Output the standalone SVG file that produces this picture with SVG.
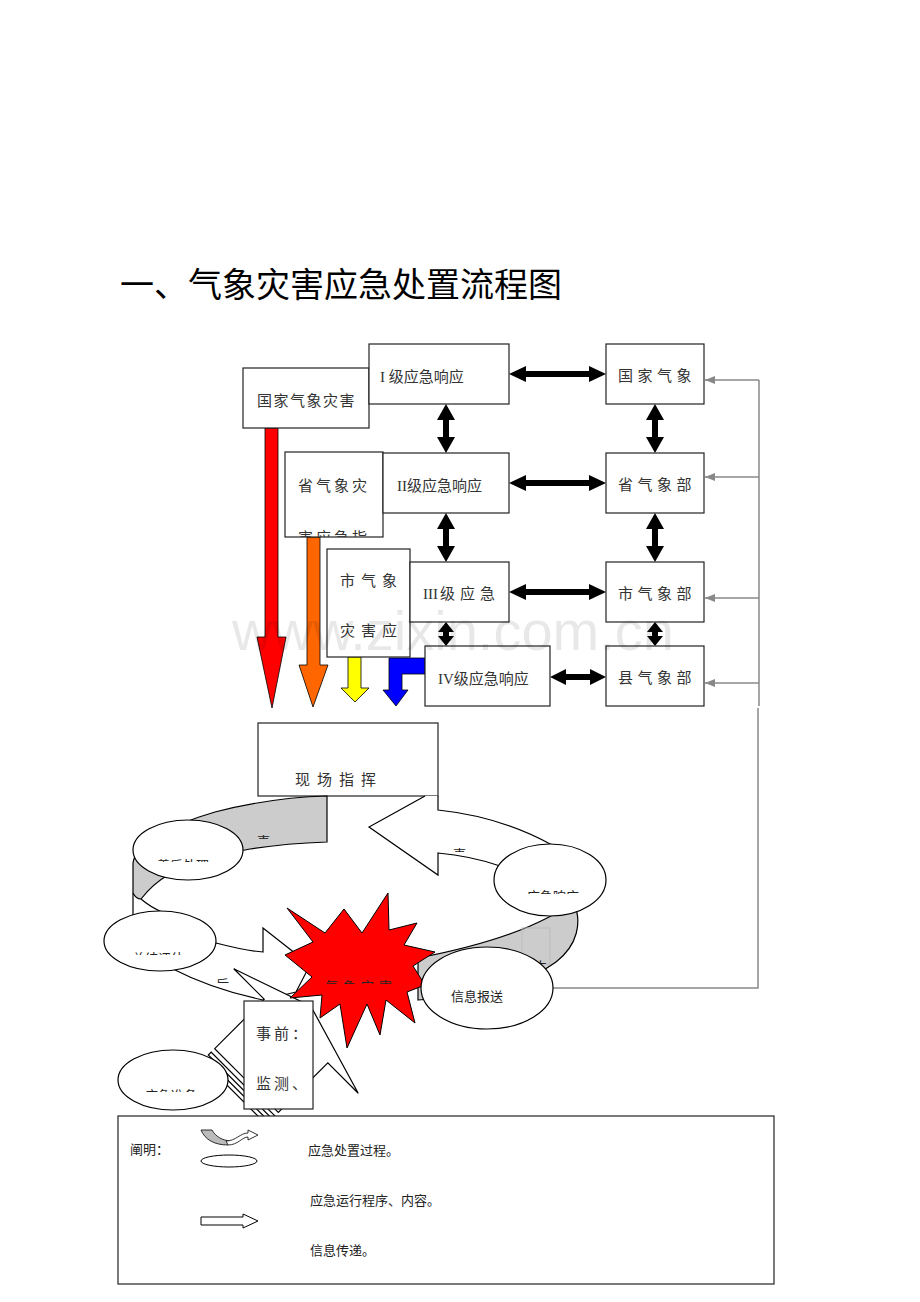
<svg xmlns="http://www.w3.org/2000/svg" width="920" height="1302" viewBox="0 0 920 1302">
<style>
.box{fill:#fff;stroke:#222;stroke-width:1.2}
.t{font-family:"Liberation Serif","Noto Sans CJK SC",serif;font-size:15px;fill:#333}
.s{font-family:"Noto Sans CJK SC",sans-serif;font-size:13px;fill:#222}
.ln{fill:#fff;stroke:#000;stroke-width:1.2}
.gr{fill:#cccccc;stroke:#000;stroke-width:1.2}
.blk{fill:#000}
.fb{stroke:#888;stroke-width:1.5;fill:none}
.col{stroke:#000;stroke-width:0.8}
</style>
<defs>
<marker id="ga" markerUnits="userSpaceOnUse" markerWidth="10" markerHeight="8" refX="10" refY="4" orient="auto"><path d="M0,0 L10,4 L0,8 Z" fill="#888"/></marker>
<clipPath id="c1"><rect x="285" y="515" width="98" height="22"/></clipPath>
<clipPath id="c2"><rect x="140" y="840" width="100" height="22"/></clipPath>
<clipPath id="c3"><rect x="120" y="935" width="90" height="20"/></clipPath>
<clipPath id="c4"><rect x="510" y="875" width="90" height="19"/></clipPath>
<clipPath id="c5"><rect x="130" y="1075" width="90" height="17"/></clipPath>
<clipPath id="c6"><rect x="315" y="965" width="100" height="19"/></clipPath>
<clipPath id="c7"><rect x="250" y="825" width="25" height="14"/></clipPath>
<clipPath id="c8"><rect x="445" y="838" width="25" height="14"/></clipPath>
<clipPath id="c9"><rect x="210" y="970" width="20" height="13"/></clipPath>
<clipPath id="c10"><rect x="522" y="950" width="28" height="14"/></clipPath>
</defs>
<rect width="920" height="1302" fill="#fff"/>
<text x="120" y="297" font-family="'Noto Sans CJK SC',sans-serif" font-size="34" fill="#000">一、气象灾害应急处置流程图</text>

<g id="colored-arrows">
<path class="col" fill="#ff0000" d="M265,428 L278,428 L278,637 L286,637 L272,708 L257,637 L265,637 Z"/>
<path class="col" fill="#ff6600" d="M307,537 L320,537 L320,665 L328,665 L313,707 L299,665 L307,665 Z"/>
<path class="col" fill="#ffff00" d="M348,657 L361,657 L361,688 L369,688 L355,702 L341,688 L348,688 Z"/>
<path class="col" fill="#0000ff" d="M425,658 L389,658 L389,690 L383,690 L396,706 L408,690 L402,690 L402,674 L425,674 Z"/>
</g>

<g id="connectors">
<polygon class="blk" points="509,374 526,366 526,371 589,371 589,366 606,374 589,382 589,377 526,377 526,382"/>
<polygon class="blk" points="509,483 526,475 526,480 589,480 589,475 606,483 589,491 589,486 526,486 526,491"/>
<polygon class="blk" points="509,592 526,584 526,589 589,589 589,584 606,592 589,600 589,595 526,595 526,600"/>
<polygon class="blk" points="550,677 566,669 566,674 590,674 590,669 606,677 590,685 590,680 566,680 566,685"/>
<polygon class="blk" points="446,404 455,420 449,420 449,437 455,437 446,453 437,437 443,437 443,420 437,420"/>
<polygon class="blk" points="446,513 455,529 449,529 449,546 455,546 446,562 437,546 443,546 443,529 437,529"/>
<polygon class="blk" points="446,622 454,632 449,632 449,636 454,636 446,646 438,636 443,636 443,632 438,632"/>
<polygon class="blk" points="655,404 664,420 658,420 658,437 664,437 655,453 646,437 652,437 652,420 646,420"/>
<polygon class="blk" points="655,513 664,529 658,529 658,546 664,546 655,562 646,546 652,546 652,529 646,529"/>
<polygon class="blk" points="655,622 663,632 658,632 658,636 663,636 655,646 647,636 652,636 652,632 647,632"/>
<path class="fb" d="M759,380 L759,706"/>
<path class="fb" d="M758,708 L758,988 L553,988"/>
<path class="fb" d="M759,380 L705,380" marker-end="url(#ga)"/>
<path class="fb" d="M759,477 L705,477" marker-end="url(#ga)"/>
<path class="fb" d="M759,598 L705,598" marker-end="url(#ga)"/>
<path class="fb" d="M759,683 L705,683" marker-end="url(#ga)"/>
</g>

<g id="n-guojia-zaihai"><rect class="box" x="243" y="368" width="126" height="60"/><text class="t" x="257" y="406" letter-spacing="1.5">国家气象灾害</text></g>
<g id="n-level1"><rect class="box" x="369" y="344" width="140" height="60"/><text class="t" x="380" y="382">I 级应急响应</text></g>
<g id="n-guojia"><rect class="box" x="606" y="344" width="98" height="60"/><text class="t" x="618" y="381" font-size="14" letter-spacing="4.5">国家气象</text></g>
<g id="n-sheng-zaihai"><rect class="box" x="285" y="452" width="98" height="85"/><text class="t" x="298" y="491" letter-spacing="3">省气象灾</text><text class="t" x="298" y="543" letter-spacing="3" clip-path="url(#c1)">害应急指</text></g>
<g id="n-level2"><rect class="box" x="383" y="453" width="126" height="60"/><text class="t" x="397" y="491">II级应急响应</text></g>
<g id="n-sheng"><rect class="box" x="606" y="453" width="98" height="60"/><text class="t" x="618" y="490" font-size="14" letter-spacing="4.5">省气象部</text></g>
<g id="n-shi-zaihai"><rect class="box" x="327" y="549" width="83" height="108"/><text class="t" x="340" y="586" letter-spacing="6">市气象</text><text class="t" x="340" y="636" letter-spacing="6">灾害应</text></g>
<g id="n-level3"><rect class="box" x="410" y="562" width="99" height="60"/><text class="t" x="423" y="599">III</text><text class="t" x="440" y="599" letter-spacing="5">级应急</text></g>
<g id="n-shi"><rect class="box" x="606" y="562" width="98" height="60"/><text class="t" x="618" y="599" font-size="14" letter-spacing="4.5">市气象部</text></g>
<g id="n-level4"><rect class="box" x="425" y="646" width="125" height="60"/><text class="t" x="438" y="684">IV级应急响应</text></g>
<g id="n-xian"><rect class="box" x="606" y="646" width="98" height="60"/><text class="t" x="618" y="683" font-size="14" letter-spacing="4.5">县气象部</text></g>

<g id="n-xianchang"><rect class="box" x="258" y="723" width="180" height="73"/><text class="t" x="295" y="785" letter-spacing="7">现场指挥</text></g>

<g id="ring">
<path class="gr" d="M327,796 C290,797 250,803 215,812 C170,825 135,845 133,863 L133,893 C135,897 138,899 141,899 C148,890 156,882 168,875 C195,862 225,853 250,849 C275,845 300,843 327,842 Z"/>
<path fill="none" stroke="#000" stroke-width="1.2" d="M141,899 C148,905 155,909 162,912 M133,893 L133,916"/>
<text class="s" x="257" y="846" clip-path="url(#c7)">事</text>
<path class="ln" d="M425,796 L369,827 L438,875 L438,853 C460,855 480,859 500,866 L552,845 C525,830 485,815 438,810 L438,796"/>
<text class="s" x="453" y="859" clip-path="url(#c8)">事</text>
<path class="gr" d="M574,903 C582,922 578,945 556,962 C525,985 470,997 418,1000 L418,958 C470,948 515,935 549,917 Z"/>
<rect x="522" y="928" width="28" height="36" fill="none" stroke="#bbb" stroke-width="1"/>
<text class="s" x="534" y="971" font-size="14" clip-path="url(#c10)">中</text>
<path class="ln" d="M216,943 C235,948 250,951 263,952 L263,928 L310,965 L296,992 L263,1000 C230,993 200,983 173,969 Z"/>
<text class="s" x="216" y="989" font-size="12" clip-path="url(#c9)">后</text>
</g>

<g id="n-striped-arrow" transform="translate(296,1031) rotate(-45)">
<path class="ln" d="M0,-45 L0,-88 L28,-7 L0,88 L0,45 L-70,45 L-70,-45 Z"/>
<rect class="ln" x="-79" y="-45" width="4" height="90"/>
<rect class="ln" x="-87" y="-45" width="4" height="90"/>
</g>

<g id="n-shanhou"><ellipse class="ln" cx="188" cy="850" rx="55" ry="30"/><text class="s" x="157" y="870" clip-path="url(#c2)">善后处理</text></g>
<g id="n-zongjie"><ellipse class="ln" cx="160" cy="941" rx="56" ry="30"/><text class="s" x="132" y="963" clip-path="url(#c3)">总结评估</text></g>
<g id="n-xiangying"><ellipse class="ln" cx="550" cy="880" rx="56" ry="36"/><text class="s" x="527" y="901" clip-path="url(#c4)">应急响应</text></g>
<g id="n-zhunbei"><ellipse class="ln" cx="173" cy="1080" rx="55" ry="30"/><text class="s" x="145" y="1100" clip-path="url(#c5)">应急准备</text></g>

<g id="n-zaihai">
<polygon fill="#ff0000" stroke="#000" stroke-width="1" points="287,908 325,933 344,909 362,933 388,893 389,930 417,923 404,945 435,952 413,966 425,985 407,992 415,1023 386,1000 380,1035 367,1004 347,1048 340,1004 320,1018 322,995 290,998 312,977 285,955 313,942"/>
<text class="s" x="325" y="991" letter-spacing="5" clip-path="url(#c6)">气象灾害</text>
</g>

<g id="n-xinxi"><ellipse class="ln" cx="487" cy="988" rx="66" ry="41"/><text class="s" x="451" y="1001" font-size="14">信息报送</text></g>

<g id="n-shiqian"><rect class="box" x="244" y="1001" width="69" height="108"/><text class="t" x="256" y="1039" font-size="14" letter-spacing="3">事前：</text><text class="t" x="256" y="1089" font-size="14" letter-spacing="3">监测、</text></g>

<g id="legend">
<rect x="118" y="1116" width="656" height="168" fill="#fff" stroke="#222" stroke-width="1.2"/>
<text class="s" x="130" y="1154" font-size="14">阐明：</text>
<path fill="#bbb" stroke="#000" stroke-width="0.8" d="M201,1130 L212,1130 C216,1137 222,1140 230,1141 L228,1145 C215,1145 205,1140 201,1130 Z"/>
<path fill="#fff" stroke="#000" stroke-width="0.8" d="M226,1141 C236,1141 240,1133 248,1133 L248,1130 L258,1135 L248,1140 L248,1137 C242,1137 238,1145 228,1145 Z"/>
<ellipse cx="229" cy="1161" rx="28" ry="6" fill="#fff" stroke="#000" stroke-width="1"/>
<path fill="#fff" stroke="#000" stroke-width="1" d="M201,1217 L243,1217 L243,1214 L258,1221 L243,1228 L243,1225 L201,1225 Z"/>
<text class="s" x="308" y="1155">应急处置过程。</text>
<text class="s" x="310" y="1205">应急运行程序、内容。</text>
<text class="s" x="310" y="1255">信息传递。</text>
</g>

<text x="232" y="650" font-family="'Liberation Sans',sans-serif" font-size="56" fill="#000" fill-opacity="0.09">www.zixin.com.cn</text>
</svg>
